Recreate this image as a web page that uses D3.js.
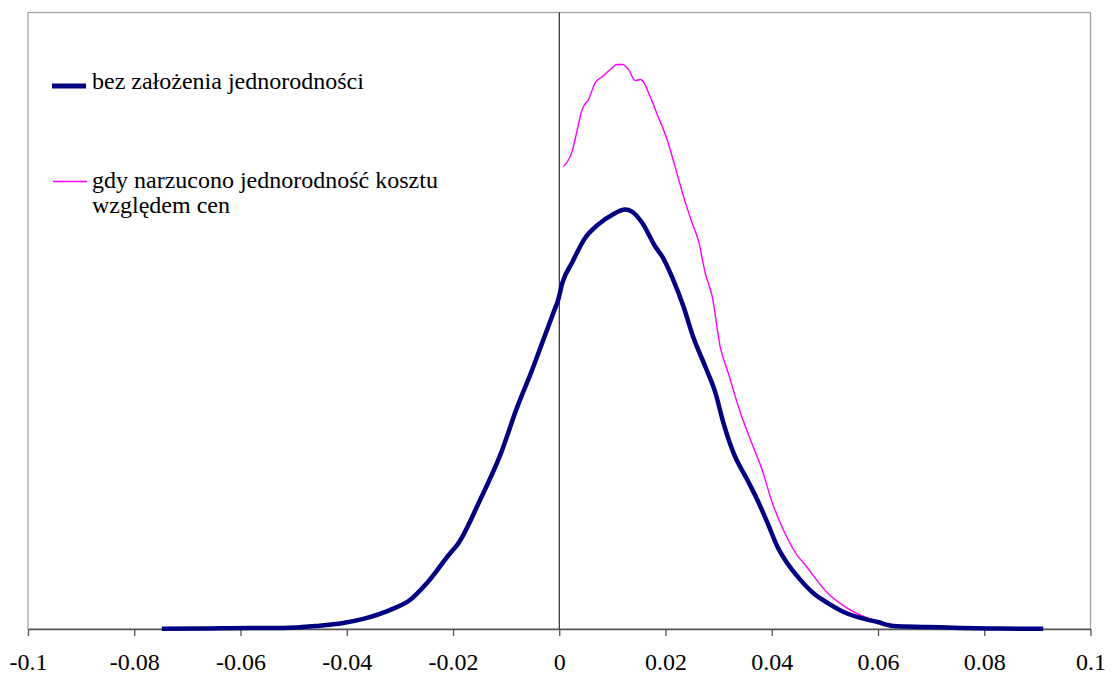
<!DOCTYPE html>
<html>
<head>
<meta charset="utf-8">
<script src="https://cdn.jsdelivr.net/npm/d3@7"></script>
<style>
  html, body { margin: 0; padding: 0; background: #fff; }
  svg { display: block; }
</style>
</head>
<body>
<svg id="chart" width="1114" height="675"></svg>
<script>
// ---- data ----
const xTicks = [-0.1, -0.08, -0.06, -0.04, -0.02, 0, 0.02, 0.04, 0.06, 0.08, 0.1];
const tickLabels = ["-0.1", "-0.08", "-0.06", "-0.04", "-0.02", "0", "0.02", "0.04", "0.06", "0.08", "0.1"];

const seriesNames = ["bez założenia jednorodności", "gdy narzucono jednorodność kosztu", "względem cen"];

const blueX = [-0.0748, -0.0676, -0.0582, -0.0520, -0.0456, -0.0407, -0.0369, -0.0318, -0.0281, -0.0249,
  -0.0205, -0.0192, -0.0149, -0.0111, -0.0079, -0.0051, -0.0030, -0.0011, -0.0002, 0.0006,
  0.0024, 0.0049, 0.0073, 0.0100, 0.0124, 0.0137, 0.0156, 0.0181, 0.0194, 0.0213,
  0.0234, 0.0252, 0.0275, 0.0294, 0.0309, 0.0328, 0.0354, 0.0373, 0.0392, 0.0411,
  0.0429, 0.0454, 0.0478, 0.0505, 0.0535, 0.0567, 0.0599, 0.0629, 0.0693, 0.0755,
  0.0831, 0.0911];
const blueY = [0.01, 0.02, 0.05, 0.05, 0.15, 0.29, 0.49, 0.93, 1.41, 2.24,
  3.70, 4.09, 6.28, 8.47, 10.81, 12.61, 14.07, 15.39, 16.02, 16.85,
  17.82, 19.04, 19.68, 20.16, 20.41, 20.31, 19.77, 18.60, 18.12, 17.09,
  15.68, 14.22, 12.76, 11.49, 10.03, 8.57, 7.26, 6.28, 5.16, 3.99,
  3.21, 2.39, 1.75, 1.27, 0.83, 0.54, 0.34, 0.15, 0.10, 0.05,
  0.02, 0.01];

const pinkX = [0.0008, 0.0024, 0.0034, 0.0043, 0.0055, 0.0068, 0.0081, 0.0096, 0.0109, 0.0119,
  0.0130, 0.0143, 0.0153, 0.0158, 0.0171, 0.0186, 0.0203, 0.0218, 0.0234, 0.0250,
  0.0262, 0.0275, 0.0288, 0.0303, 0.0318, 0.0341, 0.0360, 0.0382, 0.0401, 0.0422,
  0.0450, 0.0460, 0.0505, 0.0542, 0.0580, 0.0618, 0.0661, 0.0755, 0.0906];
const pinkY = [22.50, 23.23, 24.30, 25.28, 25.76, 26.59, 26.88, 27.23, 27.47, 27.47,
  27.23, 26.69, 26.74, 26.64, 25.91, 24.94, 23.82, 22.50, 21.04, 19.77,
  18.90, 17.30, 16.17, 13.73, 12.47, 10.52, 9.20, 7.74, 6.14, 4.82,
  3.51, 3.21, 1.75, 1.02, 0.54, 0.24, 0.10, 0.05, 0.02];

// ---- layout ----
const FONT = "Liberation Serif";
const svg = d3.select("#chart");
const padL = 28, padR = 1090.5, padT = 12.5, padB = 629;

const x = d3.scaleLinear().domain([-0.1, 0.1]).range([padL, padR]);
const y = d3.scaleLinear().domain([0, 30]).range([padB, padT]);

// plot area border
svg.append("rect")
  .attr("x", padL).attr("y", padT)
  .attr("width", padR - padL).attr("height", padB - padT)
  .attr("fill", "none").attr("stroke", "#a0a0a0").attr("stroke-width", 1.2);

// vertical axis at x = 0
svg.append("line")
  .attr("x1", x(0)).attr("x2", x(0))
  .attr("y1", padT).attr("y2", padB)
  .attr("stroke", "#000").attr("stroke-width", 1);

// bottom axis
const xAxis = d3.axisBottom(x)
  .tickValues(xTicks)
  .tickFormat((d, i) => tickLabels[i])
  .tickSize(7)
  .tickSizeOuter(0)
  .tickPadding(17);

const gx = svg.append("g").attr("transform", `translate(0,${padB})`).call(xAxis);
gx.attr("font-family", FONT).attr("font-size", 24);
gx.select(".domain").attr("stroke", "#555").attr("stroke-width", 1.3);
gx.selectAll(".tick line").attr("stroke", "#555").attr("stroke-width", 1.3);
gx.selectAll(".tick text")
  .attr("font-family", FONT)
  .attr("font-size", 24)
  .attr("fill", "#000");

// lines
const blueData = blueX.map((v, i) => [v, blueY[i]]);
const pinkData = pinkX.map((v, i) => [v, pinkY[i]]);

const line = d3.line()
  .x(d => x(d[0]))
  .y(d => y(d[1]))
  .curve(d3.curveMonotoneX);

svg.append("path")
  .datum(pinkData)
  .attr("d", line)
  .attr("fill", "none")
  .attr("stroke", "#ff00ff")
  .attr("stroke-width", 1.4);

svg.append("path")
  .datum(blueData)
  .attr("d", line)
  .attr("fill", "none")
  .attr("stroke", "#000080")
  .attr("stroke-width", 4.5)
  .attr("stroke-linejoin", "round");

// legend
const lg = svg.append("g");
lg.append("line")
  .attr("x1", 52).attr("x2", 86).attr("y1", 86).attr("y2", 86)
  .attr("stroke", "#000080").attr("stroke-width", 5);
lg.append("text")
  .attr("x", 92).attr("y", 89)
  .attr("font-family", FONT).attr("font-size", 24)
  .attr("fill", "#000")
  .text(seriesNames[0]);

lg.append("line")
  .attr("x1", 53).attr("x2", 87).attr("y1", 181.5).attr("y2", 181.5)
  .attr("stroke", "#ff00ff").attr("stroke-width", 1.4);
const t2 = lg.append("text")
  .attr("font-family", FONT).attr("font-size", 24)
  .attr("fill", "#000");
t2.append("tspan").attr("x", 92).attr("y", 188).text(seriesNames[1]);
t2.append("tspan").attr("x", 92).attr("y", 213).text(seriesNames[2]);
</script>
</body>
</html>
